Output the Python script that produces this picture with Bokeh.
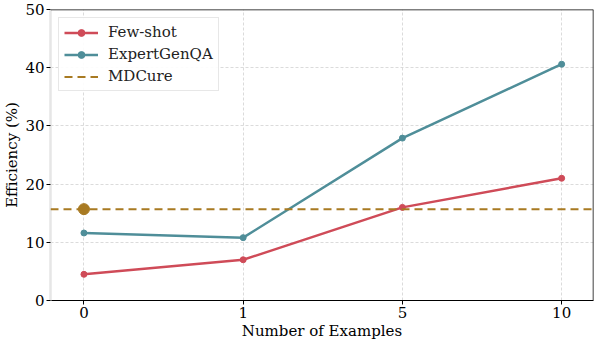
from bokeh.plotting import figure
from bokeh.models import Range1d, FixedTicker, Span, ColumnDataSource, Legend
from bokeh.embed import file_html
from bokeh.resources import INLINE

x_labels = ["0", "1", "5", "10"]
few_shot = [4.5, 7.0, 16.0, 21.0]
expert_genqa = [11.6, 10.8, 27.9, 40.6]
mdcure = 15.7

RED = "#cf4b58"
TEAL = "#4f8e99"
GOLD = "#a87a22"
FONT = "DejaVu Serif"

pos = list(range(len(x_labels)))
X0, X1 = -0.21, 3.2

p = figure(width=594, height=342, output_backend="svg", toolbar_location=None,
           x_range=Range1d(X0, X1), y_range=Range1d(0, 50),
           min_border_left=2, min_border_right=1, min_border_top=9, min_border_bottom=1)

p.outline_line_color = None
p.background_fill_color = "white"

# grids
p.xgrid.grid_line_color = "#d2d2d2"
p.ygrid.grid_line_color = "#d2d2d2"
p.xgrid.grid_line_dash = "3 2"
p.ygrid.grid_line_dash = "3 2"
p.xgrid.grid_line_width = 0.8
p.ygrid.grid_line_width = 0.8

# axes
p.xaxis.ticker = FixedTicker(ticks=pos)
p.xaxis.major_label_overrides = {i: l for i, l in zip(pos, x_labels)}
p.yaxis.ticker = FixedTicker(ticks=[0, 10, 20, 30, 40, 50])
p.xaxis.axis_label = "Number of Examples"
p.yaxis.axis_label = "Efficiency (%)"
for ax in (p.xaxis, p.yaxis):
    ax.axis_label_text_font = FONT
    ax.axis_label_text_font_style = "normal"
    ax.axis_label_text_font_size = "15px"
    ax.axis_label_text_color = "black"
    ax.major_label_text_font = FONT
    ax.major_label_text_font_size = "15px"
    ax.major_label_text_color = "black"
    ax.major_tick_line_color = "black"
    ax.major_tick_out = 4
    ax.major_tick_in = 0
    ax.minor_tick_line_color = None
    ax.major_label_standoff = 2
    ax.axis_label_standoff = 1
p.xaxis.axis_line_color = "black"
p.xaxis.axis_line_width = 1.2
p.yaxis.axis_line_color = "#e6e6e6"
p.yaxis.axis_line_width = 2.5

# top and right frame lines
p.add_layout(Span(location=50, dimension="width", line_color="black", line_width=1.5))
p.add_layout(Span(location=X1, dimension="height", line_color="black", line_width=1.5))

src = ColumnDataSource(dict(x=pos, few=few_shot, exp=expert_genqa))

l1 = p.line("x", "few", source=src, line_color=RED, line_width=2.5)
s1 = p.scatter("x", "few", source=src, size=6, color=RED)
l2 = p.line("x", "exp", source=src, line_color=TEAL, line_width=2.5)
s2 = p.scatter("x", "exp", source=src, size=6, color=TEAL)

sp = Span(location=mdcure, dimension="width", line_color=GOLD, line_width=2, line_dash="8 5")
p.add_layout(sp)
# proxy line for legend
l3 = p.line([pos[0], pos[0]], [mdcure, mdcure], line_color=GOLD, line_width=2, line_dash="8 5")
p.scatter([pos[0]], [mdcure], size=11, color=GOLD)

legend = Legend(items=[("Few-shot", [l1, s1]), ("ExpertGenQA", [l2, s2]), ("MDCure", [l3])],
                location="top_left")
legend.label_text_font = FONT
legend.label_text_font_size = "15px"
legend.label_text_color = "#222222"
legend.border_line_color = "#d0d0d0"
legend.border_line_width = 1
legend.background_fill_alpha = 0.9
legend.glyph_width = 34
legend.glyph_height = 17
legend.spacing = 4
legend.padding = 5
legend.margin = 8
legend.label_standoff = 10
p.add_layout(legend)

open("out.html", "w").write(file_html(p, INLINE))
